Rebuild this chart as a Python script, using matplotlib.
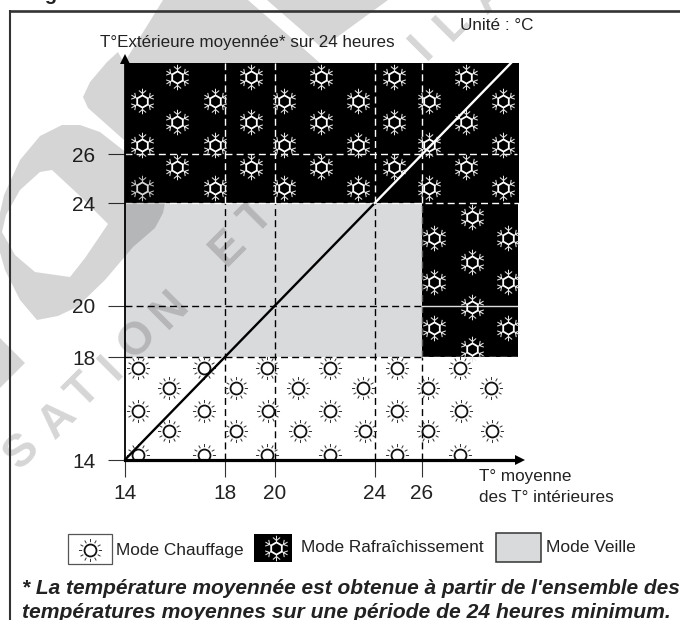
import matplotlib
matplotlib.use("Agg")
import matplotlib.pyplot as plt
import numpy as np
from matplotlib.patches import Rectangle, PathPatch, Polygon
from matplotlib.path import Path

plt.rcParams['font.family'] = ['Liberation Sans', 'DejaVu Sans']

# temperature values
x_ticks = [14, 18, 20, 24, 25.89]
y_ticks = [14, 18, 20, 24, 25.9]
x_tick_labels = ['14', '18', '20', '24', '26']
y_tick_labels = ['14', '18', '20', '24', '26']
x_end = 29.77
y_end = 29.45
veille_x = [14, 25.89]
veille_y = [18, 24]
clim_right_y = [18, 24]

# sun icons (heating), one list per row
sun_rows_y = [17.58, 16.80, 15.89, 15.13, 14.18]
sun_rows_x = [
    [14.53, 17.17, 19.71, 22.21, 24.88, 27.41],
    [15.77, 18.45, 20.95, 23.53, 26.13, 28.65],
    [14.53, 17.17, 19.73, 22.21, 24.88, 27.45],
    [15.77, 18.45, 21.01, 23.61, 26.13, 28.69],
    [14.53, 17.17, 19.71, 22.21, 24.89, 27.41],
]

# snow icons (cooling)
snow_rows_y = [28.90, 27.97, 27.15, 26.26, 25.40, 24.58]
snow_rows_x = [
    [16.09, 19.04, 21.84, 24.77, 27.65],
    [14.68, 17.60, 20.37, 23.33, 26.17, 29.13],
    [16.09, 19.04, 21.84, 24.77, 27.65],
    [14.68, 17.60, 20.37, 23.33, 26.17, 29.13],
    [16.09, 19.04, 21.84, 24.77, 27.65],
    [14.68, 17.60, 20.37, 23.33, 26.17, 29.13],
]
snow_right_x = [27.89, 26.37, 29.33, 27.89, 26.37, 29.33, 27.89, 26.37, 29.33, 27.89]
snow_right_y = [23.46, 22.64, 22.64, 21.70, 20.91, 20.91, 19.95, 19.14, 19.14, 18.32]

GRAY = '#d9dadc'
TXT = '#222222'


def sun_rays():
    verts, codes = [], []
    for a in np.radians(np.arange(0, 360, 30)):
        verts += [(8.3 * np.cos(a), 8.3 * np.sin(a)), (11.5 * np.cos(a), 11.5 * np.sin(a))]
        codes += [Path.MOVETO, Path.LINETO]
    return Path(verts, codes)


def snow_arms():
    verts, codes = [], []
    for a in np.radians(np.arange(30, 390, 60)):
        c, s = np.cos(a), np.sin(a)
        verts += [(6.0 * c, 6.0 * s), (12.5 * c, 12.5 * s)]
        codes += [Path.MOVETO, Path.LINETO]
        for b in (a - np.radians(50), a + np.radians(50)):
            verts += [(7.8 * c, 7.8 * s), (7.8 * c + 4.6 * np.cos(b), 7.8 * s + 4.6 * np.sin(b))]
            codes += [Path.MOVETO, Path.LINETO]
    return Path(verts, codes)


def hexagon():
    ang = np.radians(np.arange(90, 450, 60))
    verts = [(np.cos(a), np.sin(a)) for a in ang] + [(0, 1)]
    return Path(verts, [Path.MOVETO] + [Path.LINETO] * 5 + [Path.CLOSEPOLY])


RAYS = sun_rays()
ARMS = snow_arms()
HEX = hexagon()


def draw_sun(a, xs, ys, **kw):
    a.plot(xs, ys, ls='', marker=RAYS, ms=16.6, mfc='none', mec='#333333', mew=0.7, zorder=4, **kw)
    a.plot(xs, ys, ls='', marker='o', ms=8.6, mfc='white', mec='#111111', mew=1.3, zorder=4, **kw)


def draw_snow(a, xs, ys, **kw):
    a.plot(xs, ys, ls='', marker=ARMS, ms=18.4, mfc='none', mec='#e4e4e4', mew=0.75, zorder=4, **kw)
    a.plot(xs, ys, ls='', marker=HEX, ms=8.8, mfc='none', mec='white', mew=1.3, zorder=4, **kw)


fig = plt.figure(figsize=(6.8, 6.2), dpi=100, facecolor='white')
ax = fig.add_axes([124.7 / 680, 1 - 460 / 620, (519 - 124.7) / 680, (460 - 63) / 620], zorder=1)
ax.set_xlim(14, x_end)
ax.set_ylim(14, y_end)
ax.set_facecolor('white')

# zones
ax.add_patch(Rectangle((14, 24), x_end - 14, y_end - 24, fc='black', ec='none', zorder=1))
ax.add_patch(Rectangle((veille_x[1], clim_right_y[0]), x_end - 0.03 - veille_x[1],
                       clim_right_y[1] - clim_right_y[0], fc='black', ec='none', zorder=1))
ax.add_patch(Rectangle((veille_x[0], veille_y[0]), veille_x[1] - veille_x[0],
                       veille_y[1] - veille_y[0], fc=GRAY, ec='none', zorder=1))

# icons
for xs, y in zip(sun_rows_x, sun_rows_y):
    draw_sun(ax, xs, [y] * len(xs))
for xs, y in zip(snow_rows_x, snow_rows_y):
    draw_snow(ax, xs, [y] * len(xs))
draw_snow(ax, snow_right_x, snow_right_y)

# dashed guides
dash = dict(lw=1.0, dashes=(5, 3), dash_capstyle='butt', zorder=3)
for x in x_ticks[1:4]:
    ax.plot([x, x], [14, 24], color='black', **dash)
    ax.plot([x, x], [24, y_end], color='white', **dash)
ax.plot([x_ticks[4]] * 2, [14, 18], color='black', **dash)
ax.plot([x_ticks[4]] * 2, [18, 24], color='#555555', **dash)
ax.plot([x_ticks[4]] * 2, [24, y_end], color='white', **dash)
for y in y_ticks[1:3]:
    ax.plot([14, x_ticks[4]], [y, y], color='black', **dash)
ax.plot([x_ticks[4], x_end - 0.08], [18, 18], color='white', **dash)
ax.plot([x_ticks[4], x_end - 0.08], [20, 20], color='#dddddd', lw=1.0, zorder=3)
ax.plot([14, x_end], [24, 24], color='white', **dash)
ax.plot([14, x_end - 0.08], [25.9, 25.9], color='white', **dash)

# diagonal
ax.plot([14, 24], [14, 24], color='black', lw=1.7, zorder=5)
ax.plot([24, y_end], [24, y_end], color='white', lw=1.7, zorder=5)

# axes
for s in ['top', 'right']:
    ax.spines[s].set_visible(False)
ax.spines['left'].set_linewidth(1.3)
ax.spines['bottom'].set_linewidth(2.3)
ax.spines['left'].set_zorder(6)
ax.spines['bottom'].set_zorder(6)
ax.plot(1.003, 0, '>', transform=ax.transAxes, clip_on=False, ms=7, color='black', mew=0, zorder=7)
ax.plot(0, 1.009, '^', transform=ax.transAxes, clip_on=False, ms=7, color='black', mew=0, zorder=7)
ax.plot([0, 0], [1, 1.01], transform=ax.transAxes, clip_on=False, color='black', lw=1.3, zorder=7)
ax.set_xticks(x_ticks, x_tick_labels)
ax.set_yticks(y_ticks, y_tick_labels)
ax.tick_params(axis='both', length=12, width=0.8, color='#333333', labelsize=15, labelcolor=TXT)
ax.tick_params(axis='x', pad=5)
ax.tick_params(axis='y', pad=9)

# page layer in pixels: watermark, frame, legend, notes
page = fig.add_axes([0, 0, 1, 1], zorder=3)
page.set_xlim(0, 680)
page.set_ylim(620, 0)
page.set_axis_off()
page.patch.set_alpha(0)

wm = dict(fc='black', ec='none', alpha=0.165, zorder=1)
ring_outer = [(123, 150), (100, 132), (80, 125), (62, 125), (40, 136), (20, 160), (4, 195), (-5, 235),
              (5, 270), (20, 300), (37, 320), (58, 316), (77, 307), (105, 280), (133, 247),
              (155, 228), (163, 213), (165, 203), (160, 180), (140, 160)]
# hole runs the other way round so it stays empty
ring_hole = [(52, 170), (80, 196), (108, 224), (85, 258), (70, 277), (35, 272), (15, 255), (2, 232),
             (6, 215), (20, 190), (40, 172)]
verts = ring_outer + [ring_outer[0]] + ring_hole + [ring_hole[0]]
codes = ([Path.MOVETO] + [Path.LINETO] * (len(ring_outer) - 1) + [Path.CLOSEPOLY]
         + [Path.MOVETO] + [Path.LINETO] * (len(ring_hole) - 1) + [Path.CLOSEPOLY])
page.add_patch(PathPatch(Path(verts, codes), **wm))
page.add_patch(Polygon([(163, 0), (248, 0), (320, 63), (124, 63), (118, 52), (107, 62), (90, 82), (83, 97),
                        (88, 108), (124, 140), (124, 63)], **wm))
page.add_patch(Polygon([(267, 0), (388, 0), (340, 35), (322, 48)], **wm))
page.add_patch(Polygon([(0, 338), (25, 363), (0, 388)], **wm))

wm_letters = ['S', 'A', 'T', 'I', 'O', 'N', 'E', 'T', 'I', 'L', 'A']
wm_x = [22, 58, 84, 112, 137, 170, 228, 257, 422, 452, 490]
wm_y = [452, 420, 392, 368, 340, 310, 248, 218, 48, 24, -5]
for ch, x, y in zip(wm_letters, wm_x, wm_y):
    page.text(x, y, ch, fontsize=33, fontweight='bold', rotation=45, ha='center', va='center',
              rotation_mode='anchor', color='black', alpha=0.165, zorder=1)

# page frame
page.plot([9, 680], [10.5, 10.5], color='#333333', lw=1.9, zorder=2, solid_capstyle='butt')
page.plot([9.5, 9.5], [10, 620], color='#333333', lw=1.5, zorder=2, solid_capstyle='butt')
page.text(28, 0, 'Figure', fontsize=14.5, fontweight='bold', color=TXT, va='baseline', zorder=3)

page.text(100, 42, 'T°Extérieure moyennée* sur 24 heures', fontsize=12.25, color=TXT, va='center', zorder=3)
page.text(460, 26, 'Unité : °C', fontsize=12.3, color=TXT, va='center', zorder=3)
page.text(479, 476, 'T° moyenne', fontsize=12.3, color=TXT, va='center', zorder=3)
page.text(479, 497, 'des T° intérieures', fontsize=12.3, color=TXT, va='center', zorder=3)

# legend
page.add_patch(Rectangle((68, 534), 44, 30, fc='white', ec='#555555', lw=0.9, zorder=3))
draw_sun(page, [90], [550], clip_on=False)
page.text(116, 550, 'Mode Chauffage', fontsize=12.4, color=TXT, va='center', zorder=3)
page.add_patch(Rectangle((254, 534), 38, 28, fc='black', ec='none', zorder=3))
draw_snow(page, [276], [548], clip_on=False)
page.text(301, 547, 'Mode Rafraîchissement', fontsize=12.45, color=TXT, va='center', zorder=3)
page.add_patch(Rectangle((496, 533), 45, 29, fc=GRAY, ec='#333333', lw=1.1, zorder=3))
page.text(546, 548, 'Mode Veille', fontsize=12.5, color=TXT, va='center', zorder=3)

# footnote
page.text(22, 588, "* La température moyennée est obtenue à partir de l'ensemble des",
          fontsize=15, fontweight='bold', fontstyle='italic', color=TXT, va='center', zorder=3)
page.text(22, 612, 'températures moyennes sur une période de 24 heures minimum.',
          fontsize=15.25, fontweight='bold', fontstyle='italic', color=TXT, va='center', zorder=3)

fig.savefig('out.png', dpi=100)
